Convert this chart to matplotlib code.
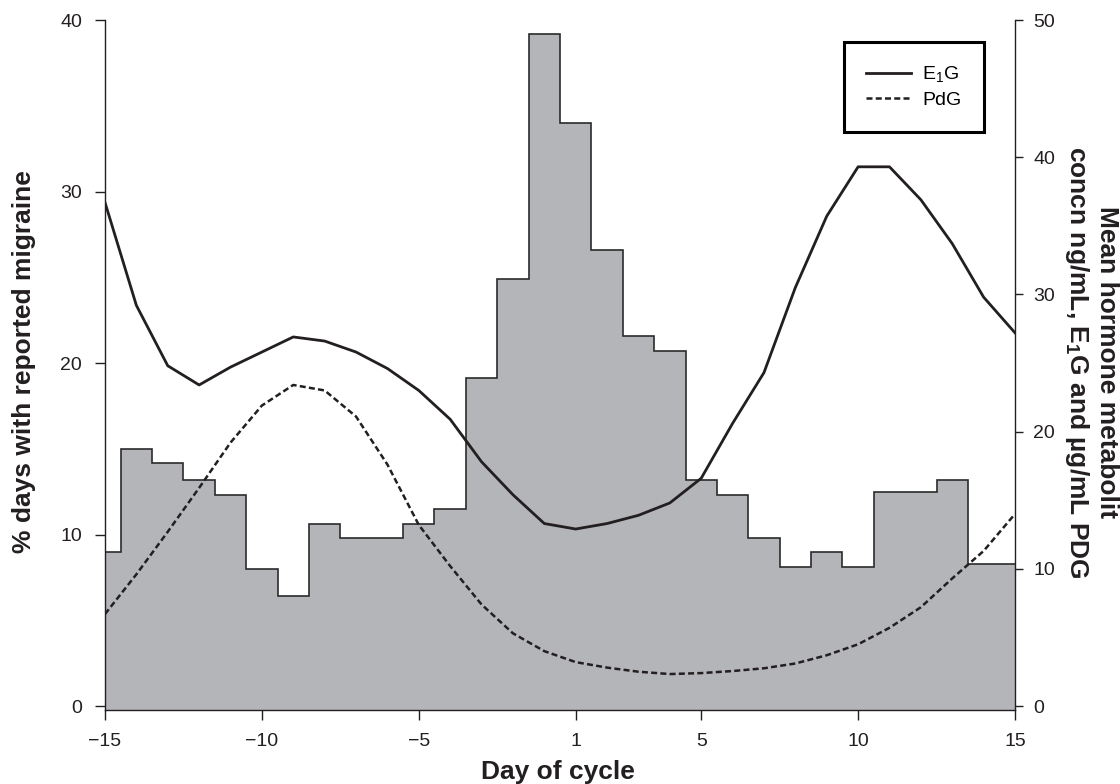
import numpy as np
import matplotlib.pyplot as plt

plt.rcParams['font.family'] = ['Liberation Sans', 'DejaVu Sans']
plt.rcParams['mathtext.fontset'] = 'custom'
plt.rcParams['mathtext.rm'] = 'Liberation Sans'
plt.rcParams['mathtext.bf'] = 'Liberation Sans:bold'

# cycle days (no day 0)
days = list(range(-15, 0)) + list(range(1, 16))

# % days with reported migraine (histogram)
migraine_pct = [9.0, 15.0, 14.2, 13.2, 12.3, 8.0, 6.4, 10.6, 9.8, 9.8,
                10.6, 11.5, 19.1, 24.9, 39.2, 34.0, 26.6, 21.6, 20.7, 13.2,
                12.3, 9.8, 8.1, 9.0, 8.1, 12.5, 12.5, 13.2, 8.3, 8.3]

# mean hormone metabolite concentrations
e1g = [36.7, 29.2, 24.8, 23.4, 24.7, 25.8, 26.9, 26.6, 25.8, 24.6,
       23.0, 20.9, 17.8, 15.4, 13.3, 12.9, 13.3, 13.9, 14.8, 16.6,
       20.6, 24.3, 30.5, 35.7, 39.3, 39.3, 36.9, 33.7, 29.8, 27.2]
pdg = [6.7, 9.6, 12.7, 15.9, 19.2, 21.9, 23.4, 23.0, 21.1, 17.6,
       13.2, 10.2, 7.4, 5.3, 4.0, 3.2, 2.8, 2.5, 2.33, 2.4,
       2.55, 2.75, 3.1, 3.7, 4.5, 5.7, 7.2, 9.3, 11.3, 14.0]

tick_days = [-15, -10, -5, 1, 5, 10, 15]


def day_pos(d):
    # day 0 does not exist, so positive days shift left by one slot
    return d if d < 0 else d - 1


INK = '#231f20'
GREY = '#b4b5b8'

pos = np.array([day_pos(d) for d in days], dtype=float)
edges = np.append(pos - 0.5, pos[-1] + 0.5)

fig = plt.figure(figsize=(11.2, 7.84), dpi=100)
ax = fig.add_axes([105 / 1120, 74 / 784, 910 / 1120, 690 / 784])
ax2 = ax.twinx()

# histogram fill runs down to the bottom spine, under the 0 line
ax.stairs(migraine_pct, edges, baseline=-1, fill=True, color=GREY, lw=0, zorder=1)
ax.stairs(migraine_pct, edges, baseline=-1, fill=False, color='#2b2b2b',
          lw=1.2, zorder=1.5)

ax2.plot(pos, e1g, color=INK, lw=2.0, label='E$_1$G')
ax2.plot(pos, pdg, color=INK, lw=1.8, linestyle=(0, (2.4, 1.3)), label='PdG')

ax.set_xlim(-15, 14)
ax.set_ylim(-0.23, 40)
ax2.set_ylim(-0.29, 50)

ax.set_xticks([day_pos(d) for d in tick_days])
ax.set_xticklabels([str(d).replace('-', '\u2212') for d in tick_days])
ax.set_yticks(np.arange(0, 41, 10))
ax2.set_yticks(np.arange(0, 51, 10))

for a in (ax, ax2):
    a.spines['top'].set_visible(False)
    for s in a.spines.values():
        s.set_linewidth(1.0)
        s.set_color(INK)
ax.spines['right'].set_visible(False)
ax2.spines['left'].set_visible(False)
ax2.spines['bottom'].set_visible(False)

ax.tick_params(axis='x', direction='out', length=7.5, width=1, pad=9,
               labelsize=14, colors=INK)
ax.tick_params(axis='y', direction='out', length=7.5, width=1, pad=9,
               labelsize=14, colors=INK)
ax2.tick_params(axis='y', direction='out', length=6, width=1, pad=7,
                labelsize=14, colors=INK)

fig.text(24 / 1120, 1 - 362 / 784, '% days with reported migraine',
         rotation=90, ha='center', va='center', fontsize=19,
         fontweight='bold', color=INK)
fig.text(558 / 1120, 1 - 772 / 784, 'Day of cycle', ha='center',
         va='center', fontsize=19, fontweight='bold', color=INK)
fig.text(1091 / 1120, 1 - 362 / 784,
         'Mean hormone metabolit\nconcn ng/mL, E$_\\mathbf{1}$G and \u00b5g/mL PDG',
         rotation=-90, ha='center', va='center', multialignment='center',
         fontsize=19, fontweight='bold', color=INK, linespacing=1.15)

leg = ax2.legend(loc='upper right', bbox_to_anchor=(0.966, 0.968),
                 borderaxespad=0, fontsize=14, frameon=True, fancybox=False,
                 framealpha=1, edgecolor='black', handlelength=2.3,
                 handletextpad=0.6, labelspacing=0.35, borderpad=1.15)
leg.get_frame().set_linewidth(2.2)

fig.savefig('out.png', dpi=100)
